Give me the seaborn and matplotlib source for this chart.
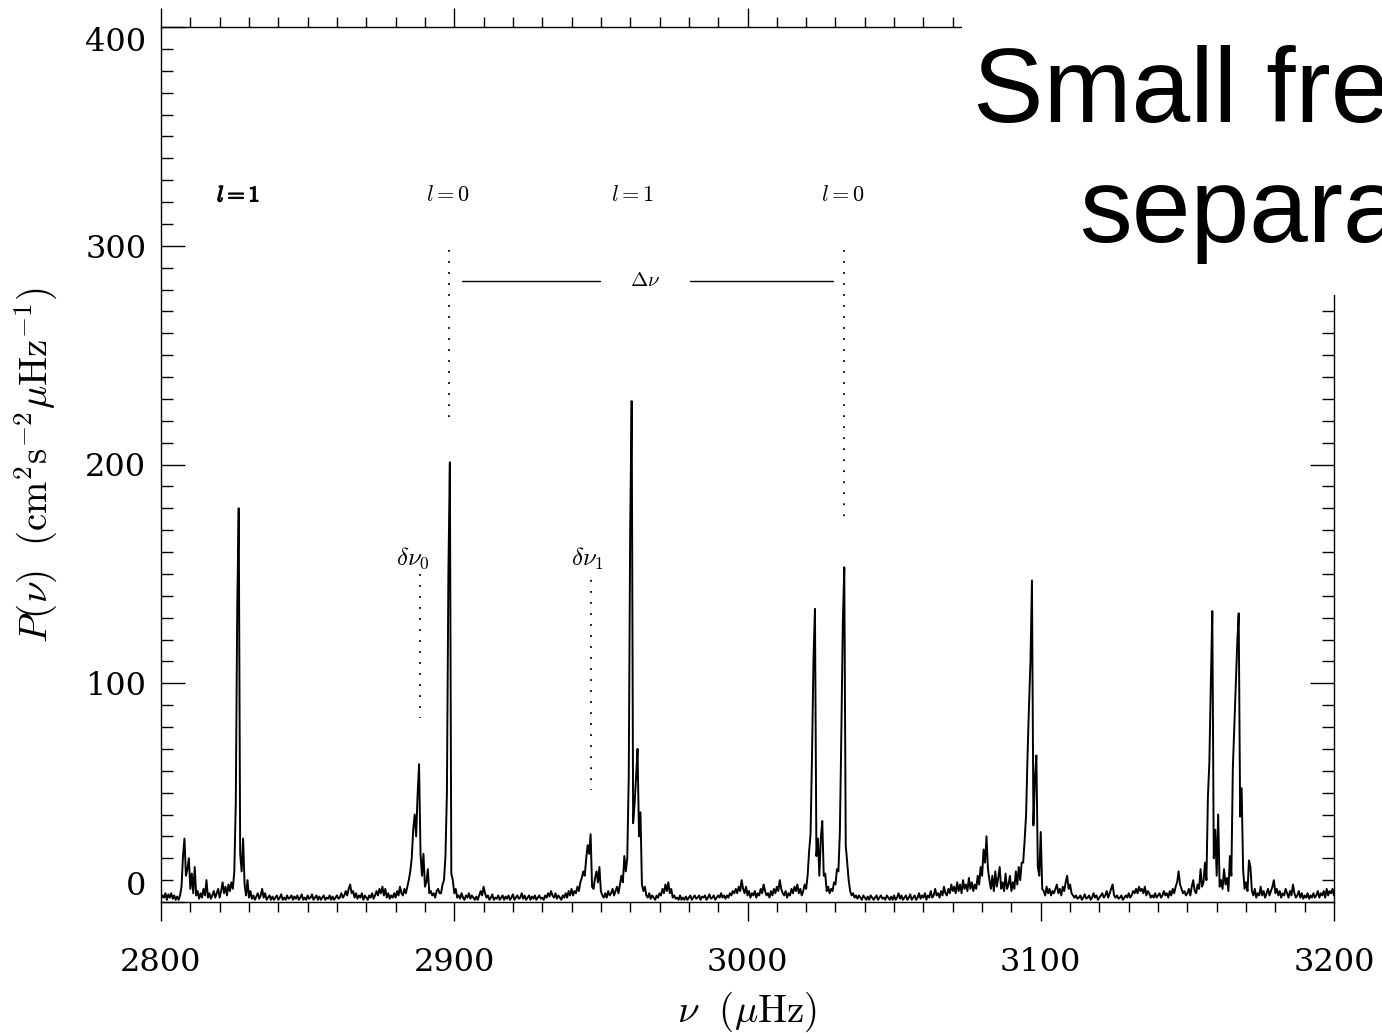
import numpy as np
import pandas as pd
import matplotlib
matplotlib.use("Agg")
import matplotlib.pyplot as plt
import matplotlib.patheffects as pe
from matplotlib.patches import Rectangle
from matplotlib.ticker import MultipleLocator
import seaborn as sns

# Power spectrum P(nu), sampled every 0.5 microHz from 2800 microHz
FREQ_START = 2800.0
FREQ_STEP = 0.5

power_2800 = [1.5, 3, 2, 4, 1, 3.5, 2, 4, 1.5, 3, 1, 2.5, 1, 3, 7, 21, 29, 12, 15, 20,
              6, 13, 4, 16, 3, 5, 1.5, 4, 2, 6, 3, 10, 2, 4, 1.5, 3, 5, 2, 4, 6,
              2, 5, 9, 4, 7, 3, 8, 5, 9, 6, 14, 45, 135, 180, 22, 14, 29, 8, 3, 10,
              2, 5, 1.5, 3, 1, 2.5, 4, 1.5, 3, 6, 2, 4, 1, 2, 3, 1, 2.5, 1, 2, 3,
              1, 2, 3.5, 1, 2, 1, 3, 1.5, 2, 3, 1, 2.5, 1.5, 3, 1, 2, 3.5, 1, 2, 1]
power_2850 = [3, 1.5, 2, 3.5, 1, 2, 3, 1, 2.5, 1, 2, 3, 1, 2, 1.5, 3, 1, 2.5, 1, 2,
              3, 1.5, 2, 4, 2, 3, 5, 3, 6, 8, 4, 5, 2, 4, 1.5, 3, 2, 4, 1, 3,
              2, 1, 3, 2, 4, 1.5, 3, 5, 3, 6, 4, 7, 3, 6, 2, 4, 1.5, 3, 2, 4,
              2, 5, 3, 7, 4, 3, 6, 4, 7, 10, 14, 20, 33, 40, 30, 49, 63, 22, 12, 22,
              7, 9, 15, 4, 5, 3, 4, 2, 5, 6, 4, 4, 8, 10, 21, 50, 150, 201, 13, 10]
power_2900 = [4, 6, 2, 3, 1.5, 4, 2, 1, 3, 2, 4, 1.5, 3, 2, 1, 2.5, 1, 3, 5, 3,
              7, 4, 2, 3, 1, 2, 3.5, 1, 2, 1.5, 3, 1, 2, 3, 1, 2.5, 1.5, 3, 1, 2,
              3.5, 1, 2, 3, 1.5, 2, 4, 1.5, 3, 1, 2, 3, 1, 2.5, 1.5, 3, 1, 2, 3, 1.5,
              2, 1, 3, 2, 4, 2.5, 5, 3, 2, 4, 1.5, 3, 2, 1, 3, 2, 4, 2, 5, 3,
              6, 3, 5, 4, 7, 5, 9, 11, 14, 12, 20, 26, 22, 31, 7, 6, 11, 14, 9, 16]
power_2950 = [5, 3, 2, 4, 2, 5, 3, 4, 6, 3, 5, 7, 4, 8, 12, 9, 21, 14, 20, 57,
              171, 229, 36, 45, 57, 70, 30, 41, 8, 5, 7, 3, 2, 4, 1.5, 3, 2, 1, 3, 2,
              4, 3, 6, 4, 8, 5, 9, 4, 6, 2, 3, 1.5, 2, 1, 3, 1, 2, 1, 2.5, 1,
              2, 3, 1, 2, 3, 1.5, 2, 3, 1, 2.5, 2, 3, 1, 2, 3.5, 1.5, 2, 3, 1, 2,
              3, 2, 4, 2, 3, 1.5, 3, 2, 4, 3, 5, 4, 6, 4, 7, 5, 10, 6, 4, 7]
power_3000 = [3, 5, 2, 4, 3, 5, 2, 4, 3, 6, 4, 8, 5, 3, 4, 2, 5, 3, 6, 4,
              7, 5, 10, 6, 4, 3, 5, 2, 4, 3, 6, 4, 7, 5, 8, 4, 6, 3, 5, 8,
              6, 12, 23, 31, 67, 111, 134, 21, 29, 12, 29, 37, 12, 13, 5, 7, 4, 6, 5, 9,
              8, 15, 14, 32, 77, 127, 153, 26, 18, 10, 5, 3, 4, 2, 3, 1.5, 3, 2, 1, 3,
              2, 1, 2.5, 1, 3, 2, 1, 2, 3, 1, 2, 3, 1.5, 2, 1, 3, 2, 1, 2.5, 1]
power_3050 = [3, 1, 2, 4, 1.5, 3, 1, 2, 3, 1, 2, 3.5, 1, 2, 3, 1, 2, 4, 1.5, 3,
              2, 4, 1, 3, 2, 5, 2, 3, 6, 3, 4, 2, 5, 3, 7, 4, 3, 6, 4, 8,
              5, 7, 4, 9, 5, 8, 4, 10, 6, 8, 5, 11, 6, 9, 5, 8, 6, 12, 8, 16,
              12, 24, 18, 30, 15, 10, 6, 12, 5, 14, 7, 11, 16, 6, 9, 5, 13, 6, 8, 12,
              5, 9, 6, 14, 8, 16, 10, 18, 18, 28, 40, 67, 90, 110, 147, 35, 56, 67, 16, 12]
power_3100 = [32, 6, 5, 3, 7, 4, 6, 3, 5, 4, 6, 8, 4, 6, 3, 7, 5, 9, 12, 6,
              8, 4, 3, 2, 3, 1.5, 2, 3, 1, 2, 3.5, 1.5, 2, 3, 1, 2, 4, 2, 3, 1,
              2, 3, 4, 2, 3, 5, 2, 4, 6, 8, 3, 2, 3, 1.5, 2, 3, 1, 2, 3, 2,
              4, 2, 3, 5, 4, 6, 4, 7, 5, 6, 4, 7, 3, 5, 4, 2, 3, 2, 4, 2,
              3, 4, 2, 3, 5, 3, 4, 2, 5, 3, 6, 4, 7, 9, 14, 8, 6, 4, 5, 3]
power_3150 = [4, 6, 3, 7, 10, 5, 4, 8, 6, 15, 7, 9, 18, 10, 48, 64, 100, 133, 20, 33,
              12, 40, 7, 10, 6, 15, 8, 11, 5, 21, 12, 61, 80, 100, 118, 132, 39, 52, 15, 6,
              9, 5, 19, 16, 5, 3, 6, 2, 4, 3, 7, 3, 5, 2, 4, 6, 3, 5, 7, 10,
              4, 6, 3, 5, 2, 4, 3, 6, 4, 2, 5, 3, 8, 4, 2, 3, 5, 2, 4, 1.5,
              3, 2, 4, 1.5, 3, 2, 4, 2, 3, 5, 2, 4, 3, 5, 2, 6, 3, 5, 4, 6, 3]

x_ticks = [2800, 2900, 3000, 3100, 3200]
x_tick_labels = ["2800", "2900", "3000", "3100", "3200"]
y_ticks = [0, 100, 200, 300, 400]
y_tick_labels = ["0", "100", "200", "300", "400"]

# Mode identifications above the peaks
mode_names = [r"$l{=}1$", r"$l{=}0$", r"$l{=}1$", r"$l{=}0$"]
mode_freqs = [2826.4, 2897.8, 2960.7, 3032.6]
mode_label_level = 323

# Large separation between the two l=0 modes
l0_first, l0_second = 2898.3, 3032.8
large_sep_level = 284
large_sep_gap = (2949.8, 2980.5)
large_sep_text_x = 2965.2
l0_guide_top = 298
l0_guide_bottoms = [220.5, 172.5]

# Small separations
small_sep_names = [r"$\delta\nu_0$", r"$\delta\nu_1$"]
small_sep_freqs = [2888.4, 2946.8]
small_sep_text_x = [2886.0, 2945.5]
small_sep_text_level = 157
small_sep_tops = [150, 147]
small_sep_bottoms = [84, 51]

power = np.array(power_2800 + power_2850 + power_2900 + power_2950 +
                 power_3000 + power_3050 + power_3100 + power_3150, dtype=float)
freq = FREQ_START + FREQ_STEP * np.arange(power.size)
spectrum = pd.DataFrame({"freq": freq, "power": power})

sns.set_style("ticks")
plt.rcParams["font.family"] = ["DejaVu Serif"]
plt.rcParams["mathtext.fontset"] = "cm"
for key in ("text.color", "axes.labelcolor", "xtick.color", "ytick.color",
            "axes.edgecolor", "xtick.labelcolor", "ytick.labelcolor"):
    plt.rcParams[key] = "black"

W, H = 1382, 1033
fig = plt.figure(figsize=(W / 100, H / 100), dpi=100)
ax = fig.add_axes([161 / W, 1 - 902 / H, (1334 - 161) / W, (902 - 27) / H])

sns.lineplot(data=spectrum, x="freq", y="power", ax=ax, color="black",
             linewidth=1.4, estimator=None, sort=False, legend=False)

ax.set_xlim(x_ticks[0], x_ticks[-1])
ax.set_ylim(y_ticks[0], y_ticks[-1])
ax.set_xticks(x_ticks, labels=x_tick_labels)
ax.set_yticks(y_ticks, labels=y_tick_labels)
ax.xaxis.set_minor_locator(MultipleLocator(10))
ax.yaxis.set_minor_locator(MultipleLocator(10))

for side in ax.spines.values():
    side.set_linewidth(1.0)
    side.set_color("black")

ax.tick_params(axis="x", which="both", direction="out", top=True, bottom=True,
               labeltop=False, color="black", labelcolor="black", width=1.0)
ax.tick_params(axis="x", which="major", length=13.7, pad=19, labelsize=23)
ax.tick_params(axis="x", which="minor", length=7.2)
ax.tick_params(axis="y", which="both", direction="in", left=True, right=True,
               labelright=False, color="black", labelcolor="black", width=1.0)
ax.tick_params(axis="y", which="major", length=17, pad=10.5, labelsize=23)
ax.tick_params(axis="y", which="minor", length=8.6)

# end labels sit inside the axis range
for lbl in ax.get_yticklabels():
    if lbl.get_text() == y_tick_labels[0]:
        lbl.set_verticalalignment("bottom")
    elif lbl.get_text() == y_tick_labels[-1]:
        lbl.set_verticalalignment("top")

ax.set_xlabel(r"$\nu\ \ (\mu{\rm Hz})$", fontsize=28, color="black")
ax.xaxis.set_label_coords(0.5, -0.1)
ax.set_ylabel(r"$P(\nu)\ \ ({\rm cm}^2{\rm s}^{-2}\mu{\rm Hz}^{-1})$", fontsize=28,
              color="black")
ax.yaxis.set_label_coords(-0.086, 0.5)

# mode labels
for i, (name, f) in enumerate(zip(mode_names, mode_freqs)):
    t = ax.text(f, mode_label_level, name, ha="center", va="center", fontsize=16)
    if i == 0:
        t.set_path_effects([pe.withStroke(linewidth=1.0, foreground="black")])

# large separation marker
dots = (0, (1, 5.1))
ax.plot([l0_first + 4.4, large_sep_gap[0]], [large_sep_level] * 2, color="black", lw=1.0)
ax.plot([large_sep_gap[1], l0_second - 3.8], [large_sep_level] * 2, color="black", lw=1.0)
ax.text(large_sep_text_x, large_sep_level, r"$\Delta\nu$", ha="center", va="center", fontsize=15)
for f, bottom in zip([l0_first, l0_second], l0_guide_bottoms):
    ax.plot([f, f], [l0_guide_top, bottom], color="black", lw=1.3, linestyle=dots)

# small separation markers
for name, f, tx, top, bottom in zip(small_sep_names, small_sep_freqs, small_sep_text_x,
                                    small_sep_tops, small_sep_bottoms):
    ax.text(tx, small_sep_text_level, name, ha="center", va="center", fontsize=18)
    ax.plot([f, f], [top, bottom], color="black", lw=1.3, linestyle=dots)

# title panel over the upper right corner
fig.add_artist(Rectangle((962 / W, 1 - 295 / H), 1 - 962 / W, 295 / H,
                         transform=fig.transFigure, facecolor="white",
                         edgecolor="none", zorder=5))
fig.text(973 / W, 1 - 45 / H, "Small frequency\nseparations", ha="left", va="top",
         multialignment="center", fontsize=76, family="Liberation Sans",
         color="black", linespacing=1.27, zorder=6)

fig.savefig("out.png", dpi=100)
